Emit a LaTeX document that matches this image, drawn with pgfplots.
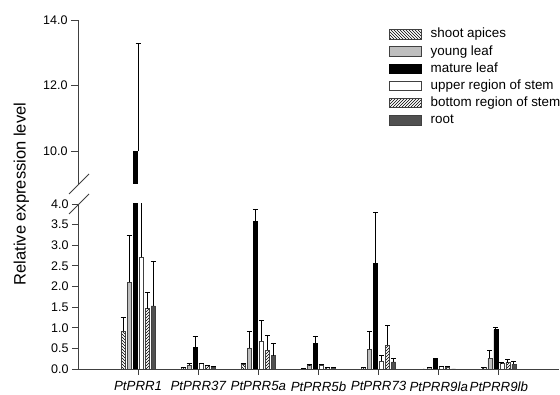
\documentclass[border=0pt]{standalone}
\usepackage{fontspec}
\setmainfont{Liberation Sans}
\usepackage{pgfplots}
\usepackage{pgfplotstable}
\pgfplotsset{compat=1.18}
\usetikzlibrary{patterns}
\definecolor{edge}{HTML}{404040}
\definecolor{young}{HTML}{BEBEBE}
\definecolor{rootc}{HTML}{505050}

\pgfplotstableread{
x  sa   saE  yl   ylE  ml    mlE  us   usE  bs   bsE  rt   rtE
1  0.91 0.34 2.10 1.14 10.00 3.27 2.71 1.60 1.46 0.39 1.53 1.08
2  0.03 0.00 0.10 0.04 0.53  0.26 0.13 0.01 0.08 0.00 0.05 0.00
3  0.11 0.03 0.51 0.40 3.58  0.28 0.68 0.49 0.46 0.35 0.32 0.30
4  0.02 0.00 0.08 0.03 0.63  0.17 0.10 0.01 0.03 0.00 0.03 0.00
5  0.04 0.00 0.48 0.42 2.55  1.25 0.19 0.13 0.57 0.49 0.17 0.09
6  0.00 0.00 0.03 0.00 0.26  0.00 0.06 0.00 0.05 0.00 0.00 0.00
7  0.03 0.00 0.26 0.20 0.95  0.05 0.13 0.03 0.15 0.08 0.12 0.07
}\datatable

\pgfplotsset{
  errstyle/.style={error bars/.cd, y dir=plus, y explicit,
    error bar style={black, line width=0.9pt},
    error mark options={black, line width=0.9pt, mark size=2.5pt, rotate=90}},
}

\begin{document}
\begin{tikzpicture}
\useasboundingbox (0,0) rectangle (560pt,395pt);

% upper axis
\begin{axis}[
  at={(78pt,211pt)}, anchor=south west, scale only axis,
  width=481pt, height=164pt,
  xmin=0, xmax=8, ymin=9, ymax=14,
  axis x line=none, axis y line*=left,
  axis line style={edge, line width=0.9pt},
  ytick={10,12,14},
  tick align=outside, major tick length=7pt,
  tick style={edge, line width=0.9pt},
  yticklabel style={font=\fontsize{12.5}{15}\selectfont, /pgf/number format/.cd, fixed, fixed zerofill, precision=1, assume math mode=true},
]
\addplot[ybar, bar width=4pt, bar shift=-3pt, fill=black, draw=black, errstyle]
  coordinates {(1,10.0) +- (0,3.27)};
\end{axis}

% lower axis
\begin{axis}[
  at={(78pt,26pt)}, anchor=south west, scale only axis,
  width=481pt, height=165pt,
  xmin=0, xmax=8, ymin=0, ymax=4,
  ybar=2pt, bar width=4pt,
  axis x line*=bottom, axis y line*=left,
  axis line style={edge, line width=0.9pt},
  xtick={1,...,7},
  xticklabels={PtPRR1,PtPRR37,PtPRR5a,PtPRR5b,PtPRR73,PtPRR9la,PtPRR9lb},
  xticklabel style={font=\itshape\fontsize{13.3}{15}\selectfont, yshift=-3pt},
  ytick={0,0.5,...,4},
  yticklabel style={font=\fontsize{12.5}{15}\selectfont, /pgf/number format/.cd, fixed, fixed zerofill, precision=1, assume math mode=true},
  tick align=outside, major tick length=6pt,
  tick style={edge, line width=0.9pt},
  ylabel={Relative expression level},
  ylabel style={font=\fontsize{16.5}{18}\selectfont, at={(axis description cs:-0.118,1.06)}, anchor=center},
  legend style={at={(axis description cs:0.64,2.08)}, anchor=north west, draw=none, fill=none,
    font=\fontsize{13.4}{15}\selectfont, row sep=4.2pt,
    nodes={inner sep=0pt, text height=9.8pt, text depth=3.2pt},
    /tikz/column 2/.style={column sep=0pt}},
  legend cell align=left,
  legend image code/.code={\draw[#1] (0pt,-4.5pt) rectangle (32pt,5pt); \path (41pt,0pt);},
]
\addplot[pattern=north west lines, draw=edge, line width=0.7pt, errstyle]
  table[x=x, y=sa, y error=saE] {\datatable};
\addplot[fill=young, draw=edge, line width=0.7pt, errstyle]
  table[x=x, y=yl, y error=ylE] {\datatable};
\addplot[fill=black, draw=black, line width=0.7pt, errstyle]
  table[x=x, y=ml, y error=mlE] {\datatable};
\addplot[fill=white, draw=edge, line width=0.7pt, errstyle]
  table[x=x, y=us, y error=usE] {\datatable};
\addplot[pattern=north east lines, draw=edge, line width=0.7pt, errstyle]
  table[x=x, y=bs, y error=bsE] {\datatable};
\addplot[fill=rootc, draw=edge, line width=0.7pt, errstyle]
  table[x=x, y=rt, y error=rtE] {\datatable};
\legend{shoot apices, young leaf, mature leaf, upper region of stem, bottom region of stem, root}
\end{axis}

% axis break marks
\draw[edge, line width=0.9pt] (69pt,181pt) -- (89pt,201pt);
\draw[edge, line width=0.9pt] (69pt,201pt) -- (89pt,221pt);
\end{tikzpicture}
\end{document}
